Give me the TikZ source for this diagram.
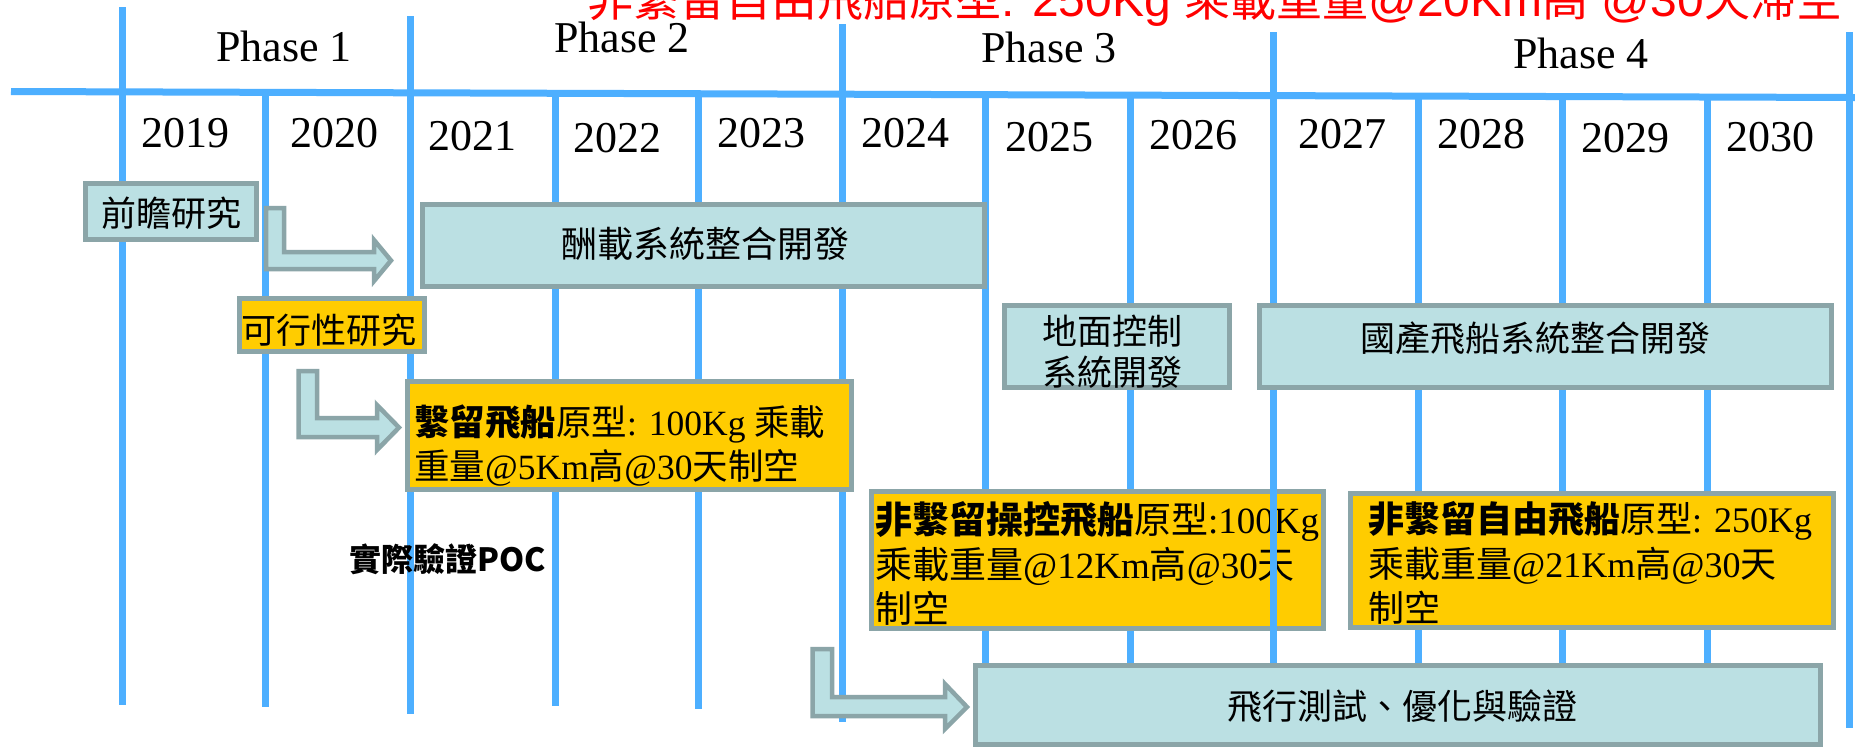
\documentclass[tikz,border=0pt]{standalone}
\usepackage{fontspec}
\setmainfont{Liberation Serif}
\newfontfamily\cjk{Noto Sans CJK TC}
\newfontfamily\lsans{Liberation Sans}
\usetikzlibrary{calc}
\definecolor{lineblue}{RGB}{77,175,255}
\definecolor{bord}{RGB}{139,165,168}
\definecolor{bfill}{RGB}{187,224,227}
\definecolor{yfill}{RGB}{255,204,0}
\tikzset{
  vline/.style={draw=lineblue, line width=7pt},
  bluebox/.style={draw=bord, fill=bfill, line width=5pt, inner sep=0pt, rectangle},
  yelbox/.style={draw=bord, fill=yfill, line width=5pt, inner sep=0pt, rectangle},
  blockarrow/.style={draw=bord, fill=bfill, line width=4.5pt, line join=miter},
  latin/.style={font=\fontsize{44}{50}\selectfont, anchor=base, inner sep=0pt},
  ctext/.style={font=\cjk\fontsize{35}{44}\selectfont, anchor=base, inner sep=0pt},
  ltext/.style={font=\fontsize{36}{44}\selectfont, anchor=base west, inner sep=0pt},
}
\newcommand{\rl}[1]{{\lsans\fontsize{48}{50}\selectfont #1}}
\begin{document}
\begin{tikzpicture}[x=1pt,y=-1pt]
\clip (0,0) rectangle (1855,748);
\fill[white] (0,0) rectangle (1855,748);
% red title (cut by the top and right edges)
\node[anchor=base west, inner sep=0pt, text=red, font=\cjk\fontsize{46}{50}\selectfont] (title) at (587,16) {非繫留自由飛船原型\rl{: 250Kg }乘載重量\rl{@20Km}高\rl{ @30}天滯空};
% timeline grid
\draw[vline] (11,91.5) -- (1855,97.5);
\foreach \x/\a/\b in {122/7/705, 265/95/707, 410/16/714, 555/95/706, 698/95/709, 842/24/722,
  985/95/680, 1130/95/680, 1418/95/680, 1562/95/680, 1707/95/680, 1849/32/728}
  \draw[vline] (\x,\a) -- (\x,\b);
% phases
\node[latin] (p1) at (284,61) {Phase 1};
\node[latin] (p2) at (622,52) {Phase 2};
\node[latin] (p3) at (1049,62) {Phase 3};
\node[latin] (p4) at (1581,68) {Phase 4};
% years
\node[latin] (y19) at (185,147) {2019};
\node[latin] (y20) at (334,147) {2020};
\node[latin] (y21) at (472,150) {2021};
\node[latin] (y22) at (617,152) {2022};
\node[latin] (y23) at (761,147) {2023};
\node[latin] (y24) at (905,147) {2024};
\node[latin] (y25) at (1049,151) {2025};
\node[latin] (y26) at (1193,149) {2026};
\node[latin] (y27) at (1342,148) {2027};
\node[latin] (y28) at (1481,148) {2028};
\node[latin] (y29) at (1625,152) {2029};
\node[latin] (y30) at (1770,151) {2030};
% box 7 (under the 2027 line)
\node[yelbox, minimum width=452pt, minimum height=137pt] (b7) at (1097.5,560) {};
\node[ltext, font=\fontsize{37}{44}\selectfont] (b7a) at (875,533) {{\cjk\bfseries 非繫留操控飛船}{\cjk 原型}:100Kg};
\node[ltext, font=\fontsize{37}{44}\selectfont] (b7b) at (875,578) {{\cjk 乘載重量}@12Km{\cjk 高}@30{\cjk 天}};
\node[ltext, font=\fontsize{37}{44}\selectfont] (b7c) at (875,622) {{\cjk 制空}};
\draw[vline] (1273,32) -- (1273,680);
% boxes
\node[bluebox, minimum width=171pt, minimum height=56pt] (b1) at (171,211.5) {};
\node[ctext] (b1t) at (171,226) {前瞻研究};
\node[bluebox, minimum width=562pt, minimum height=82pt] (b2) at (703.5,245.5) {};
\node[ctext, font=\cjk\fontsize{36}{44}\selectfont] (b2t) at (705.5,257) {酬載系統整合開發};
\node[yelbox, minimum width=185pt, minimum height=53pt] (b3) at (332,325) {};
\node[ctext] (b3t) at (329,343) {可行性研究};
\node[yelbox, minimum width=444pt, minimum height=108pt] (b4) at (629.5,435.5) {};
\node[ltext, font=\fontsize{35.5}{44}\selectfont] (b4a) at (414,435) {{\cjk\bfseries 繫留飛船}{\cjk 原型}: 100Kg {\cjk 乘載}};
\node[ltext, font=\fontsize{35.5}{44}\selectfont] (b4b) at (414,479) {{\cjk 重量}@5Km{\cjk 高}@30{\cjk 天制空}};
\node[bluebox, minimum width=225pt, minimum height=82pt] (b5) at (1117,346.5) {};
\node[ctext] (b5a) at (1112,344) {地面控制};
\node[ctext] (b5b) at (1112,385) {系統開發};
\node[bluebox, minimum width=572pt, minimum height=82pt] (b6) at (1545.5,346.5) {};
\node[ctext] (b6t) at (1535.5,351) {國產飛船系統整合開發};
\node[yelbox, minimum width=483pt, minimum height=134pt] (b8) at (1592,560.5) {};
\node[ltext] (b8a) at (1368,532) {{\cjk\bfseries 非繫留自由飛船}{\cjk 原型}: 250Kg};
\node[ltext] (b8b) at (1368,577) {{\cjk 乘載重量}@21Km{\cjk 高}@30{\cjk 天}};
\node[ltext] (b8c) at (1368,621) {{\cjk 制空}};
\node[bluebox, minimum width=845pt, minimum height=79pt] (b9) at (1398,705) {};
\node[ctext] (b9t) at (1402,719) {飛行測試、優化與驗證};
\node[anchor=base, inner sep=0pt, font=\cjk\bfseries\fontsize{32}{36}\selectfont] (poc) at (448,571) {實際驗證POC};
% bent block arrows
\draw[blockarrow] (266,208) -- (284,208) -- (284,252) -- (374,252) -- (374,240) -- (391,260.5) -- (374,281) -- (374,269) -- (266,269) -- cycle;
\draw[blockarrow] (298.5,371) -- (317,371) -- (317,418) -- (377,418) -- (377,405) -- (399,427.5) -- (377,450) -- (377,437) -- (298.5,437) -- cycle;
\draw[blockarrow] (812.5,649) -- (832,649) -- (832,697) -- (945,697) -- (945,684) -- (967,707) -- (945,729) -- (945,716) -- (812.5,716) -- cycle;
\end{tikzpicture}
\end{document}
